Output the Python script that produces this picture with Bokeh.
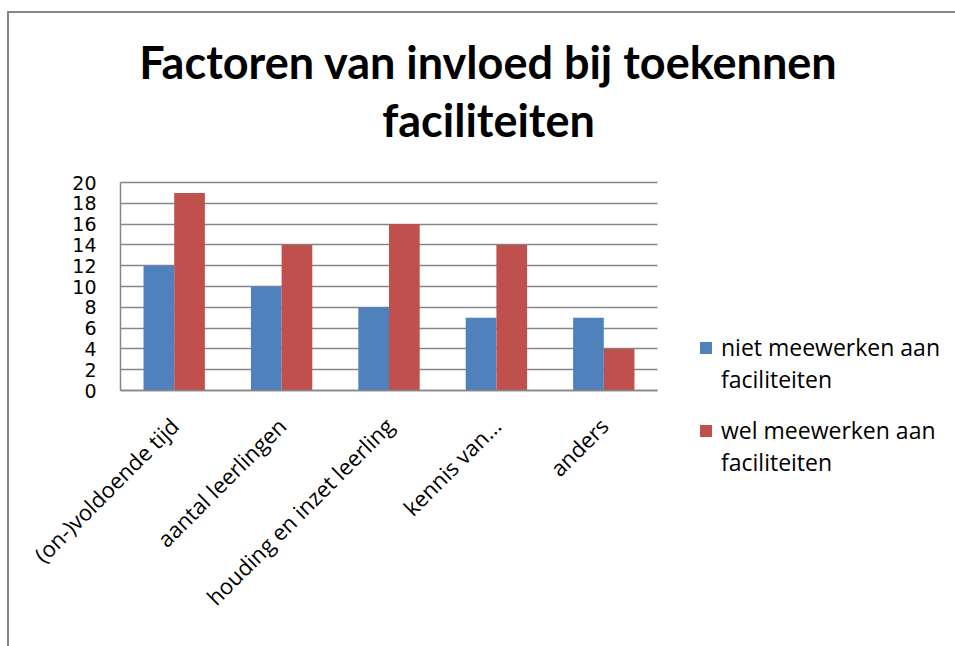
from bokeh.plotting import figure
from bokeh.models import (ColumnDataSource, Range1d, FixedTicker, Legend, LegendItem, Label,
                          LinearAxis, Grid)
from bokeh.transform import dodge
from bokeh.embed import file_html
from bokeh.resources import INLINE
from math import pi

categories = ["(on-)voldoende tijd", "aantal leerlingen", "houding en inzet leerling", "kennis van...", "anders"]
niet_meewerken = [12, 10, 8, 7, 7]
wel_meewerken = [19, 14, 16, 14, 4]
y_ticks = [0, 2, 4, 6, 8, 10, 12, 14, 16, 18, 20]
title_lines = ["Factoren van invloed bij toekennen", "faciliteiten"]
series_names = ["niet meewerken aan\nfaciliteiten", "wel meewerken aan\nfaciliteiten"]

n = len(categories)
idx = [i + 0.5 for i in range(n)]
src = ColumnDataSource(dict(idx=idx, cat=categories, niet=niet_meewerken, wel=wel_meewerken))

# layout (pixels): plot area inside the canvas
W, H = 955, 646
FL, FT, FR, FB = 120, 182, 657, 390
ymax = max(y_ticks)
ppx = (FR - FL) / n
ppy = (FB - FT) / ymax
def dx(px):
    return (px - FL) / ppx
def dy(py):
    return (FB - py) / ppy

p = figure(width=W, height=H, x_range=Range1d(dx(0), dx(W)), y_range=Range1d(dy(H), dy(0)),
           output_backend="svg", toolbar_location=None, title=None,
           x_axis_location=None, y_axis_location=None,
           min_border_left=0, min_border_right=0, min_border_top=0, min_border_bottom=0)
p.outline_line_color = None
p.background_fill_color = None
p.border_fill_color = None
p.grid.visible = False
grid_col = "#868686"
p.styles = {
    "background": ("linear-gradient(#868686,#868686) 7px 11px / 2px 100% no-repeat, "
                   "linear-gradient(#868686,#868686) 7px 11px / 100% 2px no-repeat, white"),
}

# horizontal gridlines limited to the plot area
g = Grid(dimension=1, ticker=FixedTicker(ticks=y_ticks), grid_line_color=grid_col, grid_line_width=1.5)
try:
    g.cross_bounds = (0, n)
    p.add_layout(g, "center")
except Exception:
    p.segment(x0=0, x1=n, y0=y_ticks, y1=y_ticks, line_color=grid_col, line_width=1.5)

bw = 1 / 3.5
r1 = p.vbar(x=dodge("idx", -bw / 2), top="niet", width=bw, source=src,
            fill_color="#4F81BD", line_color=None)
r2 = p.vbar(x=dodge("idx", bw / 2), top="wel", width=bw, source=src,
            fill_color="#C0504D", line_color=None)

yaxis = LinearAxis(fixed_location=0, bounds=(0, ymax), ticker=FixedTicker(ticks=y_ticks),
                   axis_line_color=grid_col, axis_line_width=1.5,
                   major_tick_line_color=None, minor_tick_line_color=None,
                   major_tick_out=0, major_tick_in=0, major_label_standoff=24,
                   major_label_text_font="DejaVu Sans", major_label_text_font_size="19px",
                   major_label_text_color="black")
p.add_layout(yaxis, "left")

xaxis = LinearAxis(fixed_location=0, bounds=(0, n), ticker=FixedTicker(ticks=idx),
                   major_label_overrides={v: c for v, c in zip(idx, categories)},
                   axis_line_color=grid_col, axis_line_width=1.5,
                   major_tick_line_color=None, minor_tick_line_color=None,
                   major_tick_out=0, major_tick_in=0, major_label_standoff=31,
                   major_label_orientation=pi / 4,
                   major_label_text_font="Open Sans", major_label_text_font_size="22px",
                   major_label_text_color="black")
p.add_layout(xaxis, "below")

# one legend block per series; a leading empty line keeps the swatch level with the first text line
for rend, name, bottom in zip([r1, r2], series_names, [395, 478]):
    leg = Legend(items=[LegendItem(label="\n" + name, renderers=[rend])],
                 location=(698, H - bottom), orientation="vertical")
    leg.padding = 0
    leg.margin = 0
    leg.border_line_color = None
    leg.background_fill_alpha = 0
    leg.glyph_width = 15
    leg.glyph_height = 15
    leg.label_standoff = 8
    leg.spacing = 0
    leg.label_text_font = "Open Sans"
    leg.label_text_font_size = "23px"
    leg.label_text_line_height = 1.35
    leg.label_text_color = "black"
    p.add_layout(leg, "center")

for txt, base in zip(title_lines, [61, 119]):
    p.add_layout(Label(x=dx(488), y=dy(base), text=txt,
                       text_font="Lato", text_font_style="bold", text_font_size="45px",
                       text_align="center", text_baseline="alphabetic", text_color="black"))

open("out.html", "w").write(file_html(p, INLINE))
